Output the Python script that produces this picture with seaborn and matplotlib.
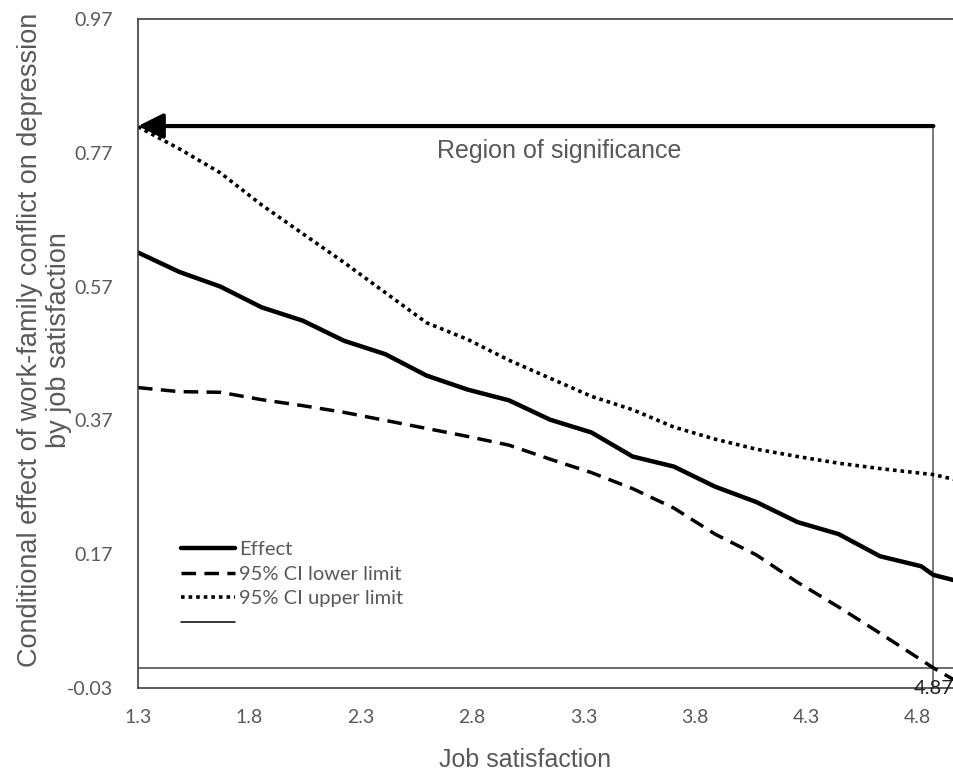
import numpy as np
import pandas as pd
import matplotlib
matplotlib.use("Agg")
import matplotlib.pyplot as plt
import seaborn as sns
from matplotlib.lines import Line2D

# === données ===
job_sat = [1.300, 1.485, 1.670, 1.855, 2.040, 2.225, 2.410, 2.595, 2.780, 2.965,
           3.150, 3.335, 3.520, 3.705, 3.890, 4.075, 4.260, 4.445, 4.630, 4.815,
           4.870, 5.000]
effect = [0.621, 0.592, 0.570, 0.539, 0.519, 0.489, 0.469, 0.437, 0.416, 0.400,
          0.371, 0.352, 0.316, 0.301, 0.271, 0.248, 0.218, 0.200, 0.167, 0.152,
          0.139, 0.128]
ci_lower = [0.419, 0.413, 0.412, 0.401, 0.392, 0.382, 0.370, 0.358, 0.346, 0.333,
            0.312, 0.292, 0.268, 0.239, 0.200, 0.169, 0.128, 0.091, 0.052, 0.012,
            0.000, -0.025]
ci_upper = [0.809, 0.776, 0.740, 0.692, 0.649, 0.606, 0.561, 0.516, 0.491, 0.460,
            0.433, 0.406, 0.386, 0.360, 0.342, 0.327, 0.316, 0.306, 0.298, 0.291,
            0.289, 0.279]

jn_point = 4.87
arrow_y = 0.81
x_ticks = [1.3, 1.8, 2.3, 2.8, 3.3, 3.8, 4.3, 4.8]
y_ticks = [-0.03, 0.17, 0.37, 0.57, 0.77, 0.97]

df = pd.DataFrame({"x": job_sat, "effect": effect, "lower": ci_lower, "upper": ci_upper})

sns.set_style("white")
gris = "#595959"

fig = plt.figure(figsize=(9.54, 7.73), dpi=100)
ax = fig.add_axes([138 / 954, 1 - 688 / 773, 1 - 138 / 954, (688 - 19) / 773])

sns.lineplot(data=df, x="x", y="effect", ax=ax, color="black", lw=3.2, estimator=None)
sns.lineplot(data=df, x="x", y="lower", ax=ax, color="black", lw=2.5,
             linestyle=(0, (4.2, 2.4)), estimator=None)
sns.lineplot(data=df, x="x", y="upper", ax=ax, color="black", lw=2.6,
             linestyle=(0, (1, 1.1)), estimator=None)

# lignes de Johnson-Neyman
ax.axhline(0, color="#404040", lw=1.1, zorder=1)
ax.plot([jn_point, jn_point], [-0.03, arrow_y], color="#555555", lw=1.1, zorder=1)
ax.annotate("", xy=(1.3, arrow_y), xytext=(jn_point, arrow_y),
            arrowprops=dict(arrowstyle="-|>", lw=3, color="black", mutation_scale=38,
                            shrinkA=0, shrinkB=0))
ax.text(3.19, 0.772, "Region of significance", ha="center", va="center",
        fontsize=18, color=gris, family="Liberation Sans")
ax.text(jn_point, -0.03, "4.87", ha="center", va="center", fontsize=14.5,
        color="#222222", family="Lato")

ax.set_xlim(1.3, 1.3 + (954 - 138) / 222.8)
ax.set_ylim(-0.03, 0.97)
ax.set_xticks(x_ticks)
ax.set_xticklabels([f"{v:.1f}" for v in x_ticks])
ax.set_yticks(y_ticks)
ax.set_yticklabels([f"{v:.2f}" for v in y_ticks])
ax.tick_params(direction="in", length=6, width=1, colors="#404040", labelcolor=gris,
               labelsize=14)
ax.tick_params(axis="y", pad=18)
ax.tick_params(axis="x", pad=15)
for lab in ax.get_xticklabels() + ax.get_yticklabels():
    lab.set_family("Lato")

for side in ["left", "top", "bottom"]:
    ax.spines[side].set_color("#404040")
    ax.spines[side].set_linewidth(1.2)
ax.spines["right"].set_visible(False)

ax.set_xlabel("Job satisfaction", fontsize=18, color=gris, family="Liberation Sans")
ax.xaxis.set_label_coords((525 - 138) / 816, -(760 - 688) / 669)
ax.xaxis.label.set_va("center")
ax.set_ylabel("Conditional effect of work-family conflict on depression\nby job satisfaction",
              fontsize=19.5, color=gris, family="Liberation Sans", linespacing=1.15)
ax.yaxis.set_label_coords((72 - 138) / 816, (688 - 340) / 669)

handles = [Line2D([], [], color="black", lw=3.2),
           Line2D([], [], color="black", lw=2.5, linestyle=(0, (4.2, 2.4))),
           Line2D([], [], color="black", lw=2.6, linestyle=(0, (1, 1.1))),
           Line2D([], [], color="black", lw=1.1)]
leg = ax.legend(handles, ["Effect", "95% CI lower limit", "95% CI upper limit", ""],
                loc="upper left", bbox_to_anchor=(0.03, 0.247), frameon=False,
                handlelength=2.7, handletextpad=0.2, labelspacing=0.38,
                prop={"family": "Lato", "size": 14.5})
for t in leg.get_texts():
    t.set_color(gris)

fig.savefig("out.png", dpi=100)
